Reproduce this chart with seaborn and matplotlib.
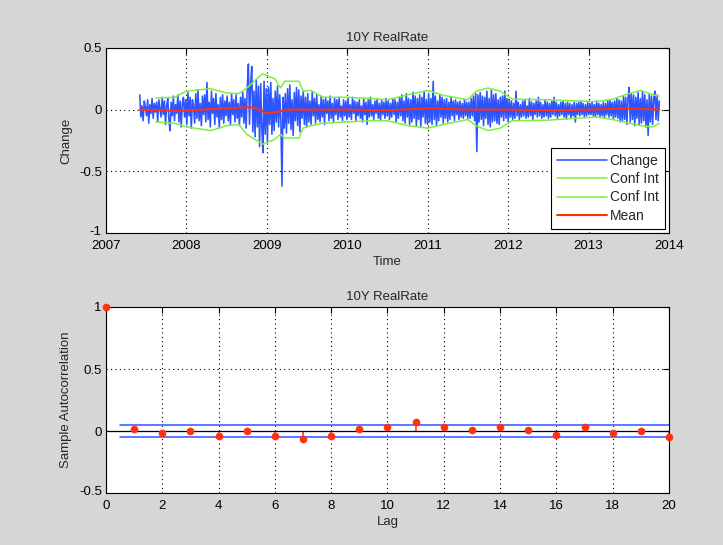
import numpy as np
import pandas as pd
import matplotlib
matplotlib.use("Agg")
import matplotlib.pyplot as plt
import matplotlib.transforms as mtransforms
import seaborn as sns

# ---------------- data ----------------
series_start = 2007.42
series_end = 2013.88
change_2007 = [0.12, -0.06, 0.03, -0.09, 0.07, 0.02, -0.05, 0.08, -0.11, 0.04, -0.03, 0.09, -0.07, 0.05,
               -0.02, 0.06, -0.10, 0.08, 0.01, -0.06, 0.10, -0.04, 0.07, -0.12, 0.03, 0.09, -0.08, -0.17,
               0.06, -0.05, 0.11, -0.09, 0.04, -0.03, 0.12, -0.10, 0.07, -0.14, 0.05, 0.10, -0.06, 0.08]
change_2008a = [-0.12, 0.14, -0.05, 0.10, -0.15, 0.08, 0.03, -0.11, 0.13, -0.07, 0.16, -0.09, 0.05, -0.13,
                0.11, -0.04, 0.12, -0.10, 0.22, -0.08, 0.06, -0.14, 0.15, -0.03, 0.09, -0.12, 0.13, -0.06,
                0.04, -0.15, 0.10, -0.08, 0.12, -0.11, 0.07, -0.05]
change_2008b = [0.11, -0.09, 0.06, -0.12, 0.13, -0.04, 0.08, -0.10, 0.12, -0.07, 0.05, -0.13, 0.10, -0.06,
                0.14, -0.11, 0.09, -0.15, 0.18, 0.37, -0.12, 0.20, 0.35, -0.18, 0.15, -0.22, 0.24, -0.14,
                0.19, -0.30, 0.21, -0.16, -0.35, 0.23, -0.20, 0.17]
change_2009a = [-0.26, 0.18, -0.12, 0.22, -0.20, 0.09, -0.17, 0.15, -0.10, 0.19, -0.14, 0.12, -0.08, -0.62,
                0.10, -0.15, 0.13, -0.19, 0.17, -0.11, 0.20, -0.16, 0.08, -0.21, 0.14, -0.09, 0.18, -0.13,
                0.16, -0.18, 0.11, -0.07, 0.15, -0.12, 0.10, -0.14]
change_2009b = [0.13, -0.10, 0.07, -0.12, 0.14, -0.05, 0.09, -0.11, 0.12, -0.08, 0.04, -0.10, 0.11, -0.06,
                0.08, -0.12, 0.10, -0.03, 0.07, -0.09, 0.11, -0.07, 0.05, -0.10, 0.09, -0.04, 0.08, -0.08,
                0.10, -0.06, 0.03, -0.09, 0.08, -0.05, 0.07, -0.08]
change_2010a = [0.09, -0.06, 0.04, -0.08, 0.10, -0.03, 0.07, -0.09, 0.06, -0.05, 0.08, -0.07, 0.03, -0.10,
                0.09, -0.04, 0.06, -0.12, 0.08, -0.06, 0.10, -0.05, 0.04, -0.08, 0.07, -0.03, 0.09, -0.07,
                0.05, -0.09, 0.08, -0.04, 0.06, -0.07, 0.09, -0.05]
change_2010b = [0.07, -0.08, 0.05, -0.06, 0.09, -0.04, 0.08, -0.10, 0.06, -0.07, 0.10, -0.05, 0.12, -0.09,
                0.07, -0.11, 0.13, -0.06, 0.09, -0.12, 0.08, -0.10, 0.14, -0.07, 0.11, -0.13, 0.09, -0.08,
                0.12, -0.14, 0.10, -0.06, 0.15, -0.11, 0.08, -0.12]
change_2011a = [0.13, -0.10, 0.09, -0.12, 0.23, -0.08, 0.11, -0.13, 0.07, -0.09, 0.12, -0.06, 0.10, -0.11,
                0.08, -0.07, 0.09, -0.10, 0.06, -0.08, 0.10, -0.05, 0.07, -0.09, 0.08, -0.04, 0.06, -0.08,
                0.07, -0.06, 0.05, -0.07, 0.08, -0.05, 0.06, -0.07]
change_2011b = [0.06, -0.07, 0.09, -0.05, 0.11, -0.09, 0.13, -0.34, 0.12, -0.10, 0.14, -0.08, 0.11, -0.13,
                0.10, -0.07, 0.15, -0.12, 0.09, -0.14, 0.16, -0.10, 0.12, -0.09, 0.13, -0.11, 0.08, -0.12,
                0.10, -0.06, 0.11, -0.09, 0.15, -0.07, 0.09, -0.10]
change_2012a = [0.08, -0.06, 0.07, -0.08, 0.05, -0.07, 0.15, -0.05, 0.06, -0.08, 0.04, -0.06, 0.07, -0.05,
                0.08, -0.07, 0.03, -0.06, 0.09, -0.05, 0.06, -0.08, 0.05, -0.04, 0.07, -0.06, 0.10, -0.05,
                0.06, -0.07, 0.04, -0.06, 0.08, -0.05, 0.06, -0.07]
change_2012b = [0.05, -0.06, 0.07, -0.04, 0.10, -0.05, 0.06, -0.07, 0.04, -0.05, 0.06, -0.04, 0.07, -0.06,
                0.05, -0.08, 0.06, -0.04, 0.05, -0.07, 0.04, -0.05, 0.06, -0.10, 0.05, -0.04, 0.06, -0.05,
                0.07, -0.04, 0.05, -0.06, 0.04, -0.05, 0.06, -0.04]
change_2013a = [0.05, -0.04, 0.06, -0.05, 0.04, -0.06, 0.07, -0.04, 0.05, -0.06, 0.04, -0.05, 0.06, -0.07,
                0.05, -0.04, 0.07, -0.06, 0.08, -0.05, 0.06, -0.08, 0.07, -0.06, 0.09, -0.07, 0.08, -0.10,
                0.07, -0.09, 0.11, -0.08, 0.10, -0.12, 0.09, 0.18]
change_2013b = [-0.10, 0.13, -0.08, 0.12, -0.13, 0.10, -0.07, 0.14, -0.12, 0.09, -0.11, 0.15, -0.09, 0.12,
                -0.14, 0.08, -0.21, 0.13, -0.10, 0.11, -0.12, 0.09, 0.15, -0.08, 0.12, -0.09, 0.07]

conf_years = [2007.62, 2007.85, 2008.0, 2008.3, 2008.5, 2008.65, 2008.75, 2008.9, 2008.95, 2009.1,
              2009.17, 2009.22, 2009.4, 2009.45, 2009.55, 2009.7, 2010.0, 2010.3, 2010.5, 2010.75,
              2011.0, 2011.2, 2011.5, 2011.6, 2011.75, 2011.9, 2012.05, 2012.5, 2012.85, 2013.1,
              2013.3, 2013.5, 2013.65, 2013.8, 2013.88]
conf_upper = [0.095, 0.10, 0.15, 0.17, 0.135, 0.13, 0.175, 0.265, 0.29, 0.25,
              0.175, 0.23, 0.23, 0.15, 0.155, 0.10, 0.10, 0.09, 0.08, 0.12,
              0.155, 0.115, 0.08, 0.15, 0.175, 0.15, 0.085, 0.08, 0.07, 0.065,
              0.085, 0.13, 0.155, 0.12, 0.11]
conf_lower = [-0.10, -0.11, -0.14, -0.17, -0.13, -0.12, -0.20, -0.26, -0.28, -0.24,
              -0.20, -0.23, -0.23, -0.15, -0.13, -0.11, -0.10, -0.09, -0.09, -0.13,
              -0.15, -0.12, -0.08, -0.13, -0.17, -0.15, -0.09, -0.085, -0.07, -0.06,
              -0.08, -0.11, -0.13, -0.14, -0.11]

mean_years = [2007.42, 2007.9, 2008.2, 2008.5, 2008.75, 2008.85, 2009.0, 2009.1, 2009.3,
              2010.0, 2010.5, 2011.0, 2011.5, 2012.0, 2012.5, 2013.0, 2013.5, 2013.88]
mean_values = [0.0, -0.01, 0.0, 0.01, 0.02, 0.015, -0.03, -0.02, 0.0,
               0.0, -0.005, 0.01, 0.0, 0.0, -0.005, 0.0, 0.01, 0.0]

lags = list(range(21))
acf_values = [1.0, 0.02, -0.02, 0.0, -0.04, 0.0, -0.04, -0.065, -0.04, 0.02, 0.03,
              0.07, 0.03, 0.01, 0.03, 0.01, -0.03, 0.03, -0.02, 0.0, -0.05]
acf_bound = 0.05
bound_lags = [0.5, 20]

title = "10Y RealRate"

change_values = (change_2007 + change_2008a + change_2008b + change_2009a + change_2009b
                 + change_2010a + change_2010b + change_2011a + change_2011b + change_2012a
                 + change_2012b + change_2013a + change_2013b)

# ---------------- style ----------------
sns.set_theme(style="white")
plt.rcParams["font.family"] = ["Liberation Sans", "DejaVu Sans"]
plt.rcParams["font.size"] = 9

bg = "#d6d6d6"
blue = "#2d55ff"
green = "#7cf03c"
red = "#ff3010"

fig = plt.figure(figsize=(7.23, 5.45), dpi=100, facecolor=bg)
ax1 = fig.add_axes([0.1466, 0.5725, 0.7787, 0.3395])
ax2 = fig.add_axes([0.1466, 0.0954, 0.7787, 0.3413])

years = np.linspace(series_start, series_end, len(change_values))
df = pd.DataFrame({"Time": years, "Change": change_values})

sns.lineplot(data=df, x="Time", y="Change", ax=ax1, color=blue, lw=1.15, label="Change", estimator=None)
sns.lineplot(x=conf_years, y=conf_upper, ax=ax1, color=green, lw=1.1, label="Conf Int", estimator=None)
sns.lineplot(x=conf_years, y=conf_lower, ax=ax1, color=green, lw=1.1, label="Conf Int", estimator=None)
sns.lineplot(x=mean_years, y=mean_values, ax=ax1, color=red, lw=1.5, label="Mean", estimator=None)

ax1.set_xlim(2007, 2014)
ax1.set_ylim(-1, 0.5)
ax1.set_xticks(range(2007, 2015))
ax1.set_yticks([-1, -0.5, 0, 0.5])
ax1.set_yticklabels(["-1", "-0.5", "0", "0.5"])
ax1.set_xlabel("Time", labelpad=3)
ax1.set_ylabel("Change", labelpad=5)
ax1.set_title(title, fontsize=9.5, pad=5)
leg = ax1.legend(loc="lower right", frameon=True, fancybox=False, fontsize=10,
                 borderaxespad=0.3, handlelength=3.6, labelspacing=0.3, borderpad=0.45,
                 handletextpad=0.2)
leg.get_frame().set_edgecolor("black")
leg.get_frame().set_linewidth(0.8)
leg.get_frame().set_alpha(1.0)

# ACF
ax2.vlines(lags, 0, acf_values, color=red, lw=1.1)
sns.scatterplot(x=lags, y=acf_values, ax=ax2, color=red, s=26, edgecolor=red, zorder=5, clip_on=False)
ax2.axhline(0, color="black", lw=0.9)
sns.lineplot(x=bound_lags, y=[acf_bound, acf_bound], ax=ax2, color=blue, lw=1.1)
sns.lineplot(x=bound_lags, y=[-acf_bound, -acf_bound], ax=ax2, color=blue, lw=1.1)
ax2.set_xlim(0, 20)
ax2.set_ylim(-0.5, 1)
ax2.set_xticks(range(0, 21, 2))
ax2.set_yticks([-0.5, 0, 0.5, 1])
ax2.set_yticklabels(["-0.5", "0", "0.5", "1"])
ax2.set_xlabel("Lag", labelpad=3)
ax2.set_ylabel("Sample Autocorrelation", labelpad=5)
ax2.set_title(title, fontsize=9.5, pad=5)

for ax in (ax1, ax2):
    ax.set_facecolor("white")
    ax.grid(True, color="black", linestyle=(0, (1, 3)), lw=0.8)
    ax.tick_params(direction="in", top=True, right=True, length=4, width=0.8,
                   labelsize=9.5, colors="black")
    ax.tick_params(axis="y", pad=3)
    ax.tick_params(axis="x", pad=5)
    for sp in ax.spines.values():
        sp.set_color("black")
        sp.set_linewidth(0.8)
    ax.xaxis.label.set_size(9.5)
    ax.yaxis.label.set_size(9.5)

# lift the bottom y tick labels slightly so they sit clear of the x tick labels (as in the reference)
lift = mtransforms.ScaledTranslation(0, 2 / 72, fig.dpi_scale_trans)
for ax in (ax1, ax2):
    lbl = ax.get_yticklabels()[0]
    lbl.set_transform(lbl.get_transform() + lift)

fig.savefig("out.png", dpi=100, facecolor=bg)
